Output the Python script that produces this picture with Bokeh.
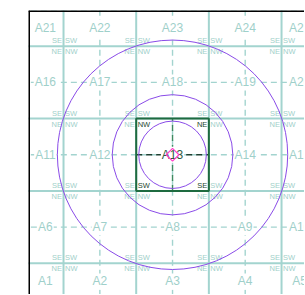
import numpy as np
from bokeh.plotting import figure
from bokeh.models import Range1d, Span
from bokeh.core.properties import value
from bokeh.embed import file_html
from bokeh.resources import INLINE

# ---- data ----
cols = [1, 2, 3, 4, 5]
rows = [1, 2, 3, 4, 5]
cell_names = [
    ["A1", "A2", "A3", "A4", "A5"],
    ["A6", "A7", "A8", "A9", "A10"],
    ["A11", "A12", "A13", "A14", "A15"],
    ["A16", "A17", "A18", "A19", "A20"],
    ["A21", "A22", "A23", "A24", "A25"],
]
highlight = "A13"
view_x = (1.0, 5.0)
view_y = (1.0, 5.0)
ring_center_x = [3, 3, 3]
ring_center_y = [3, 3, 3]
ring_radius = [0.465, 0.83, 1.585]
point_x = [3.0]
point_y = [3.0]

TEAL = "#a3d4cf"
TEAL_TXT = "#9fd0ca"
DARK = "#1e6b40"
FONT = value("Liberation Sans")

p = figure(width=304, height=294,
           x_range=Range1d(1.018, 4.816), y_range=Range1d(1.070, 4.993),
           output_backend="svg", toolbar_location=None,
           min_border_left=28, min_border_top=10, min_border_right=0, min_border_bottom=0,
           x_axis_location=None, y_axis_location=None, outline_line_color=None)
p.grid.visible = False

bounds = [c - 0.5 for c in cols] + [cols[-1] + 0.5]
lo, hi = bounds[0], bounds[-1]

# solid cell boundaries
p.segment(x0=bounds, y0=[lo] * len(bounds), x1=bounds, y1=[hi] * len(bounds),
          line_color=TEAL, line_width=2)
p.segment(x0=[lo] * len(bounds), y0=bounds, x1=[hi] * len(bounds), y1=bounds,
          line_color=TEAL, line_width=2)
# dashed centre lines
p.segment(x0=cols, y0=[lo] * 5, x1=cols, y1=[hi] * 5,
          line_color=TEAL, line_width=1.4, line_dash="6 4")
p.segment(x0=[lo] * 5, y0=rows, x1=[hi] * 5, y1=rows,
          line_color=TEAL, line_width=1.4, line_dash="6 4")

# find highlighted cell
hx = hy = None
for ri, r in enumerate(rows):
    for ci, c in enumerate(cols):
        if cell_names[ri][ci] == highlight:
            hx, hy = c, r

# highlighted cell
p.segment(x0=[hx], y0=[hy - 0.5], x1=[hx], y1=[hy + 0.5],
          line_color="#3f8a60", line_width=1.4, line_dash="6 4")
p.segment(x0=[hx - 0.5], y0=[hy], x1=[hx + 0.5], y1=[hy],
          line_color="#1f3f30", line_width=1.4, line_dash="6 4")
p.rect(x=[hx], y=[hy], width=1, height=1, fill_color=None,
       line_color=DARK, line_width=2)

# cell labels
lx, ly, lt, lc = [], [], [], []
for ri, r in enumerate(rows):
    for ci, c in enumerate(cols):
        x0, x1 = max(c - 0.5, view_x[0]), min(c + 0.5, view_x[1])
        y0, y1 = max(r - 0.5, view_y[0]), min(r + 0.5, view_y[1])
        lx.append((x0 + x1) / 2)
        ly.append((y0 + y1) / 2)
        name = cell_names[ri][ci]
        lt.append(name)
        lc.append("#2f5a3f" if name == highlight else TEAL_TXT)
p.text(x=lx, y=ly, text=lt, text_color=lc, text_align="center",
       text_baseline="middle", text_font=FONT, text_font_size="12px",
       background_fill_color="white", padding=1)

# corner labels
corner_specs = [("NW", -0.5, 0.5, "left", "top", 1.5, 1),
                ("NE", 0.5, 0.5, "right", "top", -1.5, 1),
                ("SW", -0.5, -0.5, "left", "bottom", 1.5, -1),
                ("SE", 0.5, -0.5, "right", "bottom", -1.5, -1)]
for name, dx, dy, al, bl, ox, oy in corner_specs:
    xs, ys, cs = [], [], []
    for ri, r in enumerate(rows):
        for ci, c in enumerate(cols):
            xs.append(c + dx)
            ys.append(r + dy)
            cs.append("#1f4a30" if cell_names[ri][ci] == highlight else TEAL_TXT)
    p.text(x=xs, y=ys, text=[name] * len(xs), text_color=cs, text_align=al,
           text_baseline=bl, x_offset=ox, y_offset=oy, text_font=FONT,
           text_font_size="7.5px")

# rings
p.ellipse(x=ring_center_x, y=ring_center_y,
          width=[2 * r for r in ring_radius], height=[2 * r for r in ring_radius],
          fill_color=None, line_color="#8a4be8", line_width=1)

# point
p.scatter(x=point_x, y=point_y, marker="square", angle=np.pi / 4, size=9,
          fill_color=None, line_color="#ff40c8", line_width=1.2)

# thick border (left, top)
p.add_layout(Span(location=p.x_range.start, dimension="height", line_color="black", line_width=3))
p.add_layout(Span(location=p.y_range.end, dimension="width", line_color="black", line_width=3))

open("out.html", "w").write(file_html(p, INLINE))
